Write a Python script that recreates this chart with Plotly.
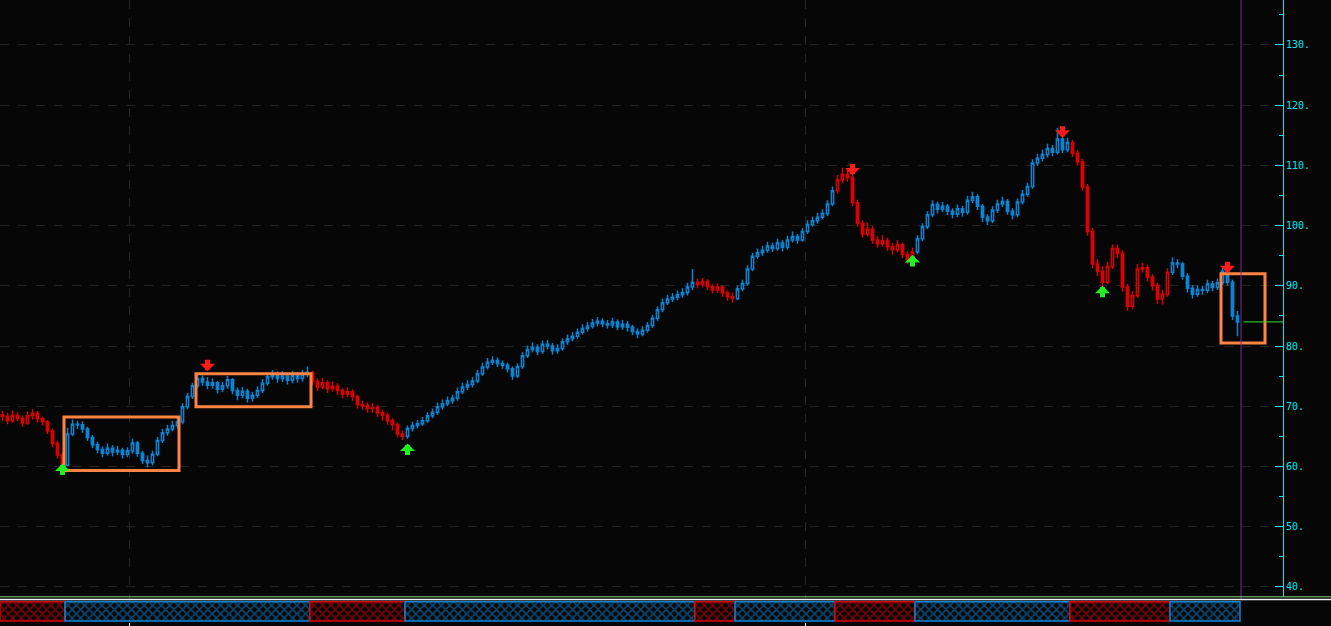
import plotly.graph_objects as go

# ---------------- data ----------------
close = [
68.3, 67.6, 68.5, 68.0, 67.2, 68.4, 68.8, 67.9, 67.4, 65.9,
63.8, 61.9, 60.2, 65.4, 67.0, 66.9, 66.2, 64.8, 63.6, 62.8,
62.2, 63.0, 62.4, 62.7, 62.0, 62.6, 63.9, 62.2, 61.0, 60.6,
62.0, 64.3, 65.6, 66.2, 66.8, 67.4, 69.9, 71.6, 73.4, 74.6,
74.0, 73.5, 73.9, 72.8, 73.4, 74.4, 72.6, 71.8, 72.5, 71.3,
71.8, 72.6, 73.8, 74.9, 75.2, 74.6, 75.0, 74.3, 75.1, 74.6,
75.3, 75.6, 74.1, 73.2, 73.9, 72.9, 73.3, 72.6, 72.0, 72.4,
71.6, 70.3, 70.1, 69.6, 69.8, 68.9, 68.5, 67.6, 66.9, 65.4,
65.0, 66.3, 66.8, 67.1, 67.6, 68.4, 69.0, 69.9, 70.4, 70.9,
71.3, 72.4, 73.2, 73.6, 74.2, 75.4, 76.5, 77.3, 77.6, 77.1,
76.8, 76.2, 75.0, 76.6, 78.4, 79.4, 79.8, 79.1, 80.3, 80.0,
79.2, 79.6, 80.7, 81.2, 81.6, 82.3, 82.9, 83.3, 83.8, 84.1,
83.7, 83.5, 84.0, 83.2, 83.6, 83.1, 82.4, 82.0, 82.6, 83.4,
84.6, 86.0, 87.2, 87.8, 88.1, 88.5, 88.9, 89.8, 90.6, 90.2,
90.7, 89.9, 89.3, 89.8, 88.8, 88.2, 87.9, 89.5, 90.4, 92.8,
94.9, 95.5, 95.9, 96.6, 96.2, 97.1, 96.4, 97.6, 98.2, 97.6,
99.0, 100.2, 100.8, 101.4, 102.0, 103.6, 105.8, 107.6, 108.5, 108.0,
103.8, 100.4, 98.6, 99.4, 97.6, 97.0, 97.5, 96.5, 96.0, 96.8,
95.2, 94.2, 95.6, 97.8, 99.8, 101.8, 103.5, 102.7, 103.2, 102.4,
101.9, 102.8, 102.2, 104.2, 104.8, 103.2, 101.4, 100.8, 102.6, 103.6,
104.0, 102.4, 101.8, 103.9, 105.2, 106.5, 110.4, 111.2, 111.8, 112.8,
112.2, 114.4, 112.6, 113.8, 112.0, 110.6, 106.4, 99.0, 93.6, 92.4,
90.6, 93.2, 96.2, 95.4, 89.8, 86.6, 88.4, 92.8, 93.0, 91.4,
90.0, 87.8, 88.6, 92.2, 93.8, 93.6, 91.6, 89.6, 88.6, 89.4,
89.2, 90.3, 89.7, 90.5, 92.4, 90.6, 85.0, 84.0,
]

open_ = [
68.6, 68.3, 67.6, 68.5, 68.0, 67.2, 68.4, 68.8, 67.9, 67.4,
65.9, 63.8, 61.9, 60.2, 65.4, 67.0, 66.9, 66.2, 64.8, 63.6,
62.8, 62.2, 63.0, 62.4, 62.7, 62.0, 62.6, 63.9, 62.2, 61.0,
60.6, 62.0, 64.3, 65.6, 66.2, 66.8, 67.4, 69.9, 71.6, 73.4,
74.6, 74.0, 73.5, 73.9, 72.8, 73.4, 74.4, 72.6, 71.8, 72.5,
71.3, 71.8, 72.6, 73.8, 74.9, 75.2, 74.6, 75.0, 74.3, 75.1,
74.6, 75.3, 75.6, 74.1, 73.2, 73.9, 72.9, 73.3, 72.6, 72.0,
72.4, 71.6, 70.3, 70.1, 69.6, 69.8, 68.9, 68.5, 67.6, 66.9,
65.4, 65.0, 66.3, 66.8, 67.1, 67.6, 68.4, 69.0, 69.9, 70.4,
70.9, 71.3, 72.4, 73.2, 73.6, 74.2, 75.4, 76.5, 77.3, 77.6,
77.1, 76.8, 76.2, 75.0, 76.6, 78.4, 79.4, 79.8, 79.1, 80.3,
80.0, 79.2, 79.6, 80.7, 81.2, 81.6, 82.3, 82.9, 83.3, 83.8,
84.1, 83.7, 83.5, 84.0, 83.2, 83.6, 83.1, 82.4, 82.0, 82.6,
83.4, 84.6, 86.0, 87.2, 87.8, 88.1, 88.5, 88.9, 89.8, 90.6,
90.2, 90.7, 89.9, 89.3, 89.8, 88.8, 88.2, 87.9, 89.5, 90.4,
92.8, 94.9, 95.5, 95.9, 96.6, 96.2, 97.1, 96.4, 97.6, 98.2,
97.6, 99.0, 100.2, 100.8, 101.4, 102.0, 103.6, 105.8, 107.6, 108.5,
108.0, 103.8, 100.4, 98.6, 99.4, 97.6, 97.0, 97.5, 96.5, 96.0,
96.8, 95.2, 94.2, 95.6, 97.8, 99.8, 101.8, 103.5, 102.7, 103.2,
102.4, 101.9, 102.8, 102.2, 104.2, 104.8, 103.2, 101.4, 100.8, 102.6,
103.6, 104.0, 102.4, 101.8, 103.9, 105.2, 106.5, 110.4, 111.2, 111.8,
112.8, 112.2, 114.4, 112.6, 113.8, 112.0, 110.6, 106.4, 99.0, 93.6,
92.4, 90.6, 93.2, 96.2, 95.4, 89.8, 86.6, 88.4, 92.8, 93.0,
91.4, 90.0, 87.8, 88.6, 92.2, 93.8, 93.6, 91.6, 89.6, 88.6,
89.4, 89.2, 90.3, 89.7, 90.5, 92.4, 90.6, 85.0,
]

high = [
69.2, 68.9, 69.3, 69.0, 68.4, 69.1, 69.5, 69.2, 68.3, 67.7,
66.3, 64.2, 62.4, 66.4, 67.8, 67.6, 67.5, 66.6, 65.2, 64.1,
63.3, 63.8, 63.5, 63.4, 63.1, 63.2, 64.6, 64.2, 62.6, 61.8,
62.6, 64.9, 66.2, 66.9, 67.6, 68.2, 70.5, 72.2, 73.9, 75.3,
75.1, 74.8, 74.6, 74.2, 74.0, 75.0, 74.7, 73.1, 73.2, 72.9,
72.4, 73.3, 74.5, 75.6, 76.0, 75.8, 75.8, 75.5, 75.9, 75.7,
76.0, 76.6, 75.9, 74.6, 74.7, 74.3, 74.1, 73.8, 73.0, 73.1,
72.8, 71.9, 70.9, 70.6, 70.5, 70.2, 69.4, 68.9, 68.0, 67.3,
66.0, 66.8, 67.4, 67.7, 68.2, 69.0, 69.6, 70.6, 71.1, 71.6,
71.9, 73.1, 73.9, 74.3, 74.8, 76.0, 77.2, 78.0, 78.3, 78.1,
77.6, 77.2, 76.6, 77.1, 79.0, 80.1, 80.6, 80.3, 80.9, 81.0,
80.5, 80.3, 81.3, 81.9, 82.3, 82.9, 83.6, 84.0, 84.5, 84.8,
84.6, 84.3, 84.7, 84.4, 84.3, 84.1, 83.5, 82.9, 83.3, 84.0,
85.2, 86.6, 87.9, 88.5, 88.8, 89.2, 89.6, 90.5, 92.8, 91.2,
91.3, 91.1, 90.3, 90.4, 90.1, 89.2, 88.9, 90.1, 91.0, 93.4,
95.5, 96.2, 96.6, 97.3, 97.2, 97.8, 97.6, 98.3, 99.0, 98.6,
99.6, 100.9, 101.5, 102.1, 102.7, 104.2, 106.5, 108.4, 109.6, 109.3,
108.4, 104.3, 100.9, 100.5, 99.9, 98.2, 98.4, 98.0, 97.1, 97.6,
97.2, 95.7, 96.3, 98.4, 100.4, 102.4, 104.2, 104.0, 103.9, 103.6,
102.9, 103.5, 103.3, 104.9, 105.6, 105.2, 103.6, 101.9, 103.2, 104.3,
104.8, 104.4, 102.9, 104.5, 105.9, 107.1, 111.0, 111.9, 112.6, 113.6,
113.4, 116.2, 114.9, 114.6, 114.2, 112.5, 111.1, 106.9, 99.6, 94.4,
93.3, 94.0, 96.9, 96.8, 95.9, 90.3, 89.1, 93.6, 93.8, 93.5,
91.9, 90.5, 89.3, 92.9, 94.7, 94.4, 94.0, 92.1, 90.1, 90.1,
90.0, 91.0, 90.8, 91.2, 93.0, 92.8, 91.0, 85.8,
]

low = [
67.6, 67.0, 67.2, 67.5, 66.6, 66.9, 67.8, 67.3, 66.8, 65.4,
63.2, 61.3, 59.6, 60.0, 65.0, 66.2, 65.6, 64.2, 63.0, 62.2,
61.5, 61.8, 61.7, 61.9, 61.3, 61.5, 62.1, 61.6, 60.4, 59.8,
60.2, 61.7, 63.9, 65.1, 65.8, 66.3, 67.0, 69.5, 71.2, 73.0,
73.4, 72.8, 72.9, 72.1, 72.3, 72.9, 72.0, 71.0, 71.3, 70.6,
70.8, 71.4, 72.2, 73.4, 74.4, 73.9, 74.0, 73.6, 73.8, 73.9,
74.1, 74.8, 73.5, 72.5, 72.8, 72.2, 72.4, 71.9, 71.3, 71.5,
70.9, 69.6, 69.4, 68.9, 68.9, 68.2, 67.6, 66.9, 66.0, 64.8,
64.4, 64.6, 65.8, 66.3, 66.7, 67.2, 68.0, 68.6, 69.4, 70.0,
70.4, 70.9, 72.0, 72.7, 73.1, 73.8, 75.0, 76.1, 76.8, 76.5,
76.2, 75.6, 74.4, 74.7, 76.2, 78.0, 78.9, 78.5, 78.7, 79.4,
78.6, 78.7, 79.2, 80.2, 80.8, 81.2, 81.9, 82.4, 82.9, 83.3,
83.1, 82.9, 83.0, 82.6, 82.7, 82.4, 81.8, 81.3, 81.6, 82.2,
83.0, 84.2, 85.6, 86.8, 87.3, 87.6, 88.0, 88.4, 89.3, 89.6,
89.7, 89.3, 88.7, 88.8, 88.2, 87.5, 87.2, 87.6, 89.1, 90.0,
92.4, 94.5, 95.0, 95.5, 95.6, 95.8, 95.7, 96.0, 97.2, 97.0,
97.3, 98.6, 99.8, 100.3, 101.0, 101.6, 103.2, 105.3, 107.0, 107.3,
103.2, 99.8, 98.0, 98.2, 97.0, 96.3, 96.5, 95.8, 95.2, 95.6,
94.6, 93.6, 93.8, 95.2, 97.4, 99.4, 101.4, 102.0, 102.2, 101.7,
101.2, 101.4, 101.5, 101.8, 103.7, 102.6, 100.6, 100.1, 100.4, 102.1,
103.1, 101.8, 101.0, 101.4, 103.5, 104.8, 106.1, 109.9, 110.7, 111.3,
111.5, 111.8, 112.0, 112.2, 111.4, 110.0, 105.8, 98.3, 92.9, 91.6,
89.6, 90.2, 92.8, 94.6, 89.0, 85.9, 86.1, 88.0, 92.2, 90.7,
89.2, 87.0, 86.9, 88.2, 91.8, 92.9, 91.0, 88.9, 87.9, 88.2,
88.5, 88.8, 89.1, 89.3, 90.1, 90.0, 84.3, 81.6,
]

# regime segments (first bar index of each segment), colours alternate red / blue
segment_starts = [0, 13, 62, 81, 139, 147, 167, 183, 214, 234]
segment_colors = ["red", "blue", "red", "blue", "red", "blue", "red", "blue", "red", "blue"]

# signal arrows: bar index and price of the arrow tip
down_bars = [41, 170, 212, 245]
down_tips = [75.8, 108.3, 114.6, 92.1]
up_bars = [12, 81, 182, 220]
up_tips = [60.5, 63.8, 95.1, 90.0]

# highlighted boxes (bar-index span, price span)
box_x0 = [12.3, 38.7, 243.7]
box_x1 = [35.3, 61.7, 252.5]
box_y0 = [59.3, 69.9, 80.5]
box_y1 = [68.2, 75.4, 92.0]

last_price = 84.0
year_ticks = [25.3, 160.5]
y_ticks = [40, 50, 60, 70, 80, 90, 100, 110, 120, 130]
y_tick_labels = ["40.", "50.", "60.", "70.", "80.", "90.", "100.", "110.", "120.", "130."]

# ---------------- styling ----------------
BG = "#060606"
RED = "#dc0000"
BLUE = "#0b84d4"
CYAN = "#00e8f0"
ORANGE = "#ff8443"
GRID = "#242424"
col = {"red": RED, "blue": BLUE}

n = len(close)
bounds = segment_starts + [n]
bar_color = [None] * n
for s in range(len(segment_starts)):
    for i in range(bounds[s], bounds[s + 1]):
        bar_color[i] = segment_colors[s]

fig = go.Figure()

for cname in ["red", "blue"]:
    idx = [i for i in range(n) if bar_color[i] == cname]
    c = col[cname]
    fig.add_trace(go.Candlestick(
        x=idx,
        open=[open_[i] for i in idx],
        high=[high[i] for i in idx],
        low=[low[i] for i in idx],
        close=[close[i] for i in idx],
        increasing=dict(line=dict(color=c, width=1.5), fillcolor=BG),
        decreasing=dict(line=dict(color=c, width=1.5), fillcolor=c),
        whiskerwidth=0,
        showlegend=False,
        hoverinfo="skip",
        xaxis="x", yaxis="y",
    ))

# regime strip at the bottom
for s in range(len(segment_starts)):
    a = bounds[s] - 0.5
    b = bounds[s + 1] - 0.5
    c = col[segment_colors[s]]
    fig.add_trace(go.Bar(
        x=[(a + b) / 2], y=[0.76], base=[0.04], width=[b - a],
        marker=dict(color=BG, line=dict(color=c, width=1.5),
                    pattern=dict(shape="x", fgcolor=c, bgcolor=BG, size=6, solidity=0.5)),
        showlegend=False, hoverinfo="skip",
        xaxis="x", yaxis="y2",
    ))

shapes = []
for k in range(len(box_x0)):
    shapes.append(dict(type="rect", xref="x", yref="y",
                       x0=box_x0[k], x1=box_x1[k], y0=box_y0[k], y1=box_y1[k],
                       line=dict(color=ORANGE, width=3), fillcolor="rgba(0,0,0,0)"))
# current-bar marker and last price line
shapes.append(dict(type="line", xref="x", yref="paper", x0=n - 0.3, x1=n - 0.3, y0=0.036, y1=1,
                   line=dict(color="#7a2a92", width=1)))
shapes.append(dict(type="line", xref="x", yref="y", x0=n + 0.2, x1=256.1, y0=last_price, y1=last_price,
                   line=dict(color="#2ee82e", width=1)))
# separator lines above the strip
shapes.append(dict(type="line", xref="paper", yref="paper", x0=0, x1=1331 / 1283, y0=0.0405, y1=0.0405,
                   line=dict(color="#7fd87f", width=1)))
shapes.append(dict(type="line", xref="paper", yref="paper", x0=0, x1=1331 / 1283, y0=0.0360, y1=0.0360,
                   line=dict(color="#f0f0f0", width=1.5)))

annotations = []
for b, t in zip(down_bars, down_tips):
    annotations.append(dict(x=b, y=t, xref="x", yref="y", text="", showarrow=True,
                            ax=0, ay=-13, arrowhead=1, arrowsize=0.5, arrowwidth=5,
                            arrowcolor="#ff1a1a"))
for b, t in zip(up_bars, up_tips):
    annotations.append(dict(x=b, y=t, xref="x", yref="y", text="", showarrow=True,
                            ax=0, ay=13, arrowhead=1, arrowsize=0.5, arrowwidth=5,
                            arrowcolor="#22ee22"))

fig.update_layout(
    width=1331, height=626,
    margin=dict(l=0, r=48, t=0, b=4),
    paper_bgcolor=BG, plot_bgcolor=BG,
    showlegend=False,
    boxgap=0.35,
    bargap=0,
    hovermode=False,
    shapes=shapes,
    annotations=annotations,
    xaxis=dict(domain=[0, 1], range=[-0.5, 256.1], anchor="y2",
               tickvals=year_ticks, showticklabels=False,
               ticks="outside", ticklen=5, tickcolor="#ffffff", tickwidth=1,
               showgrid=True, gridcolor=GRID, griddash="dash", gridwidth=1,
               zeroline=False, showline=False, rangeslider=dict(visible=False),
               fixedrange=True),
    yaxis=dict(domain=[0.0405, 1], range=[38.34, 137.47], anchor="x", side="right",
               tickvals=y_ticks, ticktext=y_tick_labels,
               tickfont=dict(family="DejaVu Sans Mono", size=10, color=CYAN),
               ticks="inside", ticklen=8, tickcolor=CYAN, tickwidth=1,
               showline=True, linecolor=CYAN, linewidth=1,
               showgrid=True, gridcolor=GRID, griddash="dash", gridwidth=1,
               zeroline=False, fixedrange=True,
               minor=dict(tickvals=[45, 55, 65, 75, 85, 95, 105, 115, 125, 135],
                          ticks="inside", ticklen=4, tickcolor=CYAN, showgrid=False)),
    yaxis2=dict(domain=[0, 0.0405], range=[0, 1], anchor="x", visible=False, fixedrange=True),
)

fig.write_html(
    "out.html",
    config={"displayModeBar": False, "staticPlot": True},
    post_script="document.body.style.margin='0';document.body.style.background='#060606';document.body.style.overflow='hidden';",
)
